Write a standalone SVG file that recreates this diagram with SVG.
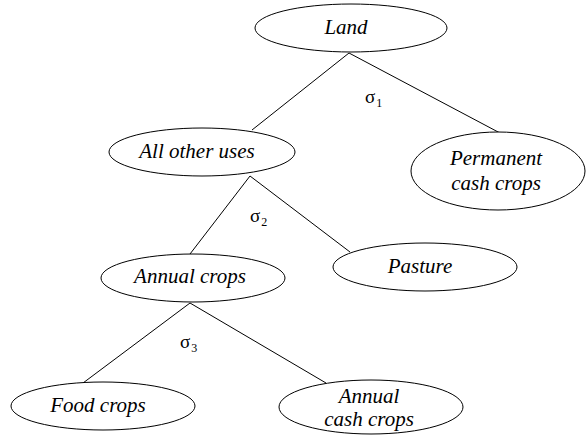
<svg xmlns="http://www.w3.org/2000/svg" width="588" height="445" viewBox="0 0 588 445">
<style>
.n ellipse{fill:#fff;stroke:#000;stroke-width:1}
.n text{font-family:"Liberation Serif","Times New Roman",serif;font-style:italic;font-size:21px;fill:#000;text-anchor:middle}
.c line{stroke:#000;stroke-width:1}
.s{font-family:"Liberation Serif","Times New Roman",serif;font-size:19px;fill:#000}
.s tspan.sub{font-size:12px}
</style>
<rect width="588" height="445" fill="#fff"/>
<g id="connectors" class="c">
<line x1="349" y1="53" x2="252" y2="130"/>
<line x1="349" y1="53" x2="500" y2="133"/>
<line x1="250" y1="176" x2="190" y2="254"/>
<line x1="250" y1="176" x2="350" y2="252"/>
<line x1="190" y1="303" x2="83" y2="383"/>
<line x1="190" y1="303" x2="326" y2="383"/>
</g>
<g id="labels">
<text class="s" x="365" y="103">σ<tspan class="sub" dx="1" dy="4">1</tspan></text>
<text class="s" x="250" y="222">σ<tspan class="sub" dx="1" dy="4">2</tspan></text>
<text class="s" x="180" y="348">σ<tspan class="sub" dx="1" dy="4">3</tspan></text>
</g>
<g id="land" class="n"><ellipse cx="351" cy="28" rx="96" ry="24"/><text x="346" y="34">Land</text></g>
<g id="all-other-uses" class="n"><ellipse cx="202" cy="152" rx="93" ry="24"/><text x="197" y="158">All other uses</text></g>
<g id="permanent-cash-crops" class="n"><ellipse cx="498" cy="171" rx="87" ry="39"/><text x="496" y="165">Permanent</text><text x="496" y="190">cash crops</text></g>
<g id="annual-crops" class="n"><ellipse cx="193" cy="278" rx="92" ry="24"/><text x="190" y="283">Annual crops</text></g>
<g id="pasture" class="n"><ellipse cx="425" cy="267" rx="92" ry="24"/><text x="420" y="273">Pasture</text></g>
<g id="food-crops" class="n"><ellipse cx="103" cy="406" rx="92" ry="24"/><text x="98" y="412">Food crops</text></g>
<g id="annual-cash-crops" class="n"><ellipse cx="371" cy="407" rx="92" ry="27"/><text x="369" y="403">Annual</text><text x="369" y="426">cash crops</text></g>
</svg>
